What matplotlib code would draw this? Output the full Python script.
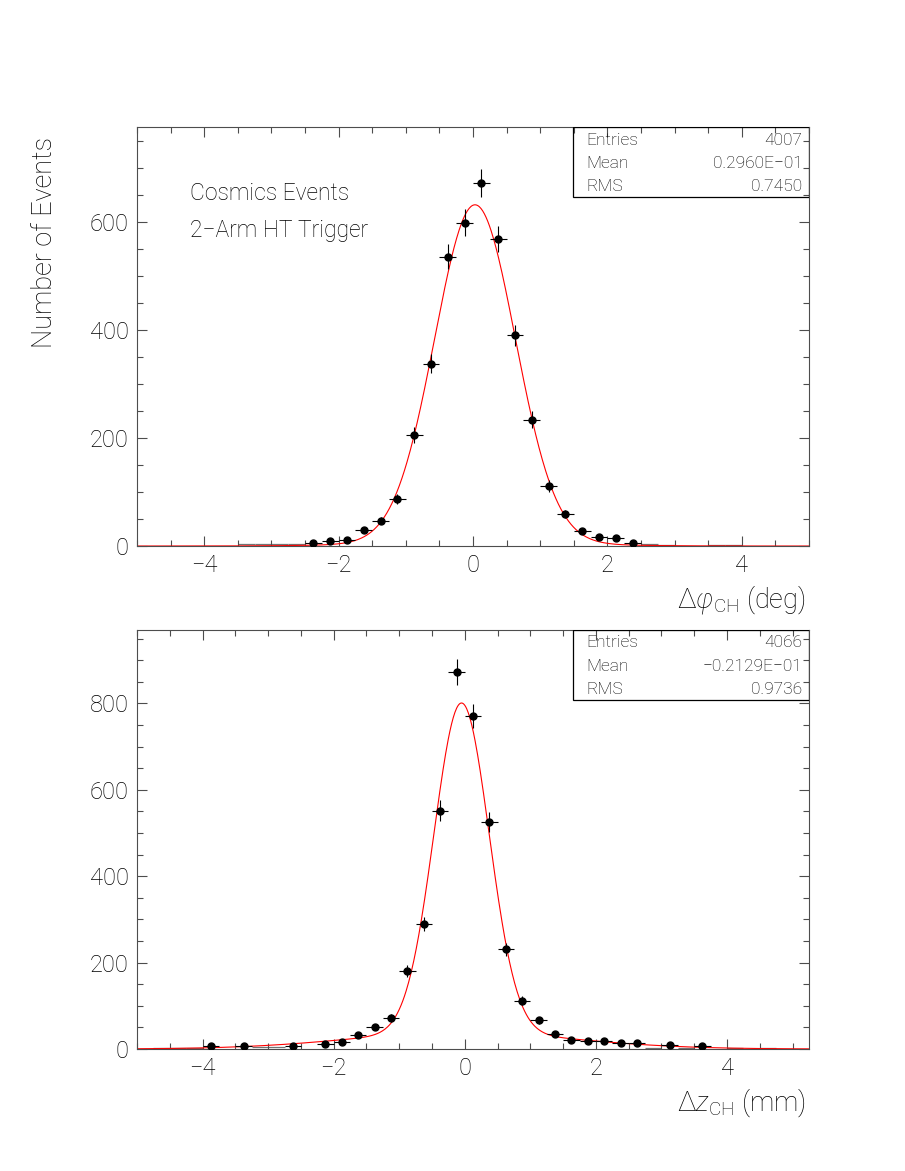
import numpy as np
import matplotlib.pyplot as plt
from matplotlib.ticker import MultipleLocator
from matplotlib.patches import Rectangle

plt.rcParams['font.family'] = ['Roboto', 'DejaVu Sans']
plt.rcParams['font.weight'] = 'light'
plt.rcParams['mathtext.fontset'] = 'custom'
plt.rcParams['mathtext.rm'] = 'Roboto:light'
plt.rcParams['mathtext.it'] = 'Roboto:italic:light'

# =========================
# Data
# =========================

BIN_HALF = 0.125

# top panel: delta phi
phi_x = [-2.375, -2.125, -1.875, -1.625, -1.375, -1.125, -0.875, -0.625, -0.375, -0.125,
         0.125, 0.375, 0.625, 0.875, 1.125, 1.375, 1.625, 1.875, 2.125, 2.375]
phi_y = [6, 9, 11, 30, 47, 87, 206, 338, 536, 599,
         673, 569, 390, 234, 111, 59, 27, 17, 15, 6]
phi_low_x = [-3.375, -3.125, -2.875, -2.625, 2.625, 2.875, 3.625, 3.875]
phi_low_y = [3, 4, 4, 3, 3, 2, 2, 1]
phi_stats = [("Entries", "4007"), ("Mean", "0.2960E\u221201"), ("RMS", "0.7450")]
# fit: core gaussian + small wide gaussian (amp, mean, sigma)
phi_fit = [(626, 0.03, 0.60), (6, 0.0, 1.4)]

# bottom panel: delta z
z_x = [-3.875, -3.375, -2.625, -2.125, -1.875, -1.625, -1.375, -1.125, -0.875, -0.625,
       -0.375, -0.125, 0.125, 0.375, 0.625, 0.875, 1.125, 1.375, 1.625, 1.875,
       2.125, 2.375, 2.625, 3.125, 3.625]
z_y = [8, 8, 8, 11, 17, 32, 51, 72, 181, 289,
       552, 873, 772, 526, 231, 112, 67, 34, 21, 18,
       18, 14, 13, 9, 8]
z_low_x = [-4.625, -4.375, -4.125, -3.125, -2.875, 2.875, 3.375, 4.125, 4.625]
z_low_y = [2, 3, 3, 4, 4, 3, 3, 3, 2]
z_stats = [("Entries", "4066"), ("Mean", "\u22120.2129E\u221201"), ("RMS", "0.9736")]
z_fit = [(763, -0.05, 0.42), (38, -0.05, 1.7)]


def fit_curve(x, pars):
    y = np.zeros_like(x)
    for amp, mu, sig in pars:
        y += amp * np.exp(-0.5 * ((x - mu) / sig) ** 2)
    return y


def draw_panel(ax, xs, ys, low_x, low_y, fit_pars, stats, xlim, ylim):
    xs = np.array(xs)
    ys = np.array(ys, dtype=float)

    xf = np.linspace(xlim[0], xlim[1], 800)
    ax.plot(xf, fit_curve(xf, fit_pars), color="red", lw=0.8, zorder=2)

    ax.hlines(low_y, np.array(low_x) - BIN_HALF, np.array(low_x) + BIN_HALF,
              color="0.45", lw=0.9, zorder=1)

    ax.errorbar(xs, ys, xerr=BIN_HALF, yerr=np.sqrt(ys), fmt="o", color="black",
                ms=5, elinewidth=0.8, capsize=0, zorder=3)

    ax.set_xlim(*xlim)
    ax.set_ylim(*ylim)
    ax.xaxis.set_major_locator(MultipleLocator(2))
    ax.xaxis.set_minor_locator(MultipleLocator(0.5))
    ax.yaxis.set_major_locator(MultipleLocator(200))
    ax.yaxis.set_minor_locator(MultipleLocator(50))
    ax.tick_params(which="both", direction="in", top=True, right=True,
                   labelsize=17, pad=6, width=0.8, color="0.3")
    ax.tick_params(which="major", length=7)
    ax.tick_params(which="minor", length=4)
    for sp in ax.spines.values():
        sp.set_linewidth(0.8)
        sp.set_color("0.3")

    # stats box
    ax.add_patch(Rectangle((0.649, 0.833), 0.351, 0.167, transform=ax.transAxes,
                           fill=False, edgecolor="black", lw=0.9, zorder=5))
    for i, (name, val) in enumerate(stats):
        yy = 0.969 - i * 0.055
        ax.text(0.668, yy, name, transform=ax.transAxes, ha="left", va="center",
                fontsize=12.5)
        ax.text(0.99, yy, val, transform=ax.transAxes, ha="right", va="center",
                fontsize=12.5)


fig = plt.figure(figsize=(9.05, 11.71), dpi=100)

ax1 = fig.add_axes([0.1514, 0.5337, 0.7425, 0.3578])
ax2 = fig.add_axes([0.1514, 0.1042, 0.7425, 0.3578])

draw_panel(ax1, phi_x, phi_y, phi_low_x, phi_low_y, phi_fit, phi_stats,
           (-5.0, 5.0), (0, 776))
draw_panel(ax2, z_x, z_y, z_low_x, z_low_y, z_fit, z_stats,
           (-5.0, 5.25), (0, 970))

ax1.text(0.079, 0.842, "Cosmics Events", transform=ax1.transAxes,
         ha="left", va="center", fontsize=16.5)
ax1.text(0.079, 0.752, "2\u2212Arm HT Trigger", transform=ax1.transAxes,
         ha="left", va="center", fontsize=16.5)

fig.text(45 / 905, 1 - 242 / 1171, "Number of Events", rotation=90,
         ha="center", va="center", fontsize=19.5)
fig.text(806 / 905, 1 - 600 / 1171, "\u0394$\\varphi_{\\mathrm{CH}}$ (deg)",
         ha="right", va="center", fontsize=19.5)
fig.text(806 / 905, 1 - 1103 / 1171, "\u0394$z_{\\mathrm{CH}}$ (mm)",
         ha="right", va="center", fontsize=19.5)

fig.savefig("out.png", dpi=100)
